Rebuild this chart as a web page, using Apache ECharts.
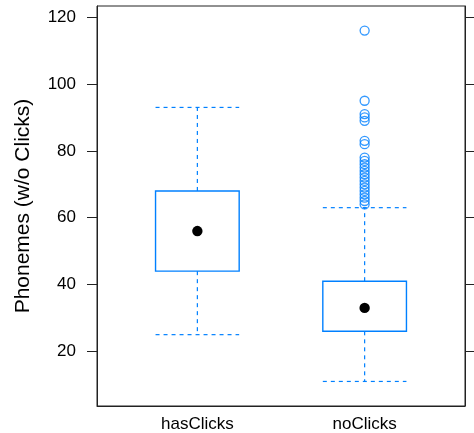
<!DOCTYPE html>
<html>
<head>
<meta charset="utf-8">
<script src="https://cdn.jsdelivr.net/npm/echarts@6/dist/echarts.min.js"></script>
<style>
html,body{margin:0;padding:0;background:#fff;}
#chart{width:474px;height:433px;}
</style>
</head>
<body>
<div id="chart"></div>
<script>
var categories = ['hasClicks', 'noClicks'];
var categoryPositions = [1, 2];
var lowerWhisker = [25, 11];
var q1 = [44, 26];
var median = [56, 33];
var q3 = [68, 41];
var upperWhisker = [93, 63];
var outliersNoClicks = [116, 95, 91, 90, 89, 83, 82, 78, 77, 76, 75, 74, 73, 72, 71, 70, 69, 68, 67, 66, 65, 64];
var yTicks = [20, 40, 60, 80, 100, 120];

var BLUE = '#0080ff';
var boxData = categories.map(function (c, i) {
  return [categoryPositions[i], lowerWhisker[i], q1[i], median[i], q3[i], upperWhisker[i]];
});
var outlierData = outliersNoClicks.map(function (v) { return [categoryPositions[1], v]; });

function renderBox(params, api) {
  var x = api.value(0);
  var pLow = api.coord([x, api.value(1)]);
  var pQ1 = api.coord([x, api.value(2)]);
  var pMed = api.coord([x, api.value(3)]);
  var pQ3 = api.coord([x, api.value(4)]);
  var pHigh = api.coord([x, api.value(5)]);
  var w = api.size([0.5, 0])[0];
  var cx = pMed[0];
  var dash = { stroke: BLUE, lineWidth: 1.2, lineDash: [4, 4], fill: null };
  return {
    type: 'group',
    children: [
      { type: 'line', shape: { x1: cx, y1: pQ3[1], x2: cx, y2: pHigh[1] }, style: dash },
      { type: 'line', shape: { x1: cx, y1: pQ1[1], x2: cx, y2: pLow[1] }, style: dash },
      { type: 'line', shape: { x1: cx - w / 2, y1: pHigh[1], x2: cx + w / 2, y2: pHigh[1] }, style: dash },
      { type: 'line', shape: { x1: cx - w / 2, y1: pLow[1], x2: cx + w / 2, y2: pLow[1] }, style: dash },
      { type: 'rect', shape: { x: cx - w / 2, y: pQ3[1], width: w, height: pQ1[1] - pQ3[1] },
        style: { stroke: BLUE, lineWidth: 1.4, fill: 'rgba(255,255,255,0)' } },
      { type: 'circle', shape: { cx: cx, cy: pMed[1], r: 5.2 }, style: { fill: '#000' } }
    ]
  };
}

var chart = echarts.init(document.getElementById('chart'), null, { renderer: 'canvas' });
var FONT = 'Liberation Sans, Arial, sans-serif';
chart.setOption({
  animation: false,
  backgroundColor: '#fff',
  grid: { left: 97, right: 9, top: 6, bottom: 26, show: true, borderColor: '#222', borderWidth: 1, backgroundColor: 'transparent' },
  xAxis: {
    type: 'value', min: 0.4, max: 2.6,
    splitLine: { show: false },
    axisLine: { show: true, lineStyle: { color: '#222', width: 1 } },
    axisTick: { show: false },
    axisLabel: {
      customValues: categoryPositions,
      margin: 10,
      fontFamily: FONT, fontSize: 17, color: '#000',
      formatter: function (v) { var i = categoryPositions.indexOf(v); return i >= 0 ? categories[i] : ''; }
    }
  },
  yAxis: [{
    type: 'value', min: 3.65, max: 123.35, position: 'left',
    name: 'Phonemes (w/o Clicks)', nameLocation: 'middle', nameGap: 63,
    nameTextStyle: { fontFamily: FONT, fontSize: 21, color: '#000' },
    splitLine: { show: false },
    axisLine: { show: true, lineStyle: { color: '#222', width: 1 } },
    axisTick: { show: true, customValues: yTicks, length: 10, lineStyle: { color: '#222', width: 1 } },
    axisLabel: { customValues: yTicks, margin: 21, fontFamily: FONT, fontSize: 17, color: '#000' }
  }, {
    type: 'value', min: 3.65, max: 123.35, position: 'right',
    splitLine: { show: false },
    axisLine: { show: true, lineStyle: { color: '#222', width: 1 } },
    axisTick: { show: true, customValues: yTicks, length: 10, lineStyle: { color: '#222', width: 1 } },
    axisLabel: { show: false }
  }],
  series: [{
    type: 'custom',
    renderItem: renderBox,
    encode: { x: 0, y: [1, 2, 3, 4, 5] },
    data: boxData,
    z: 2
  }, {
    type: 'scatter',
    data: outlierData,
    symbol: 'circle',
    symbolSize: 9,
    itemStyle: { color: 'rgba(255,255,255,0)', borderColor: BLUE, borderWidth: 1.3 },
    z: 3
  }]
});
</script>
</body>
</html>
